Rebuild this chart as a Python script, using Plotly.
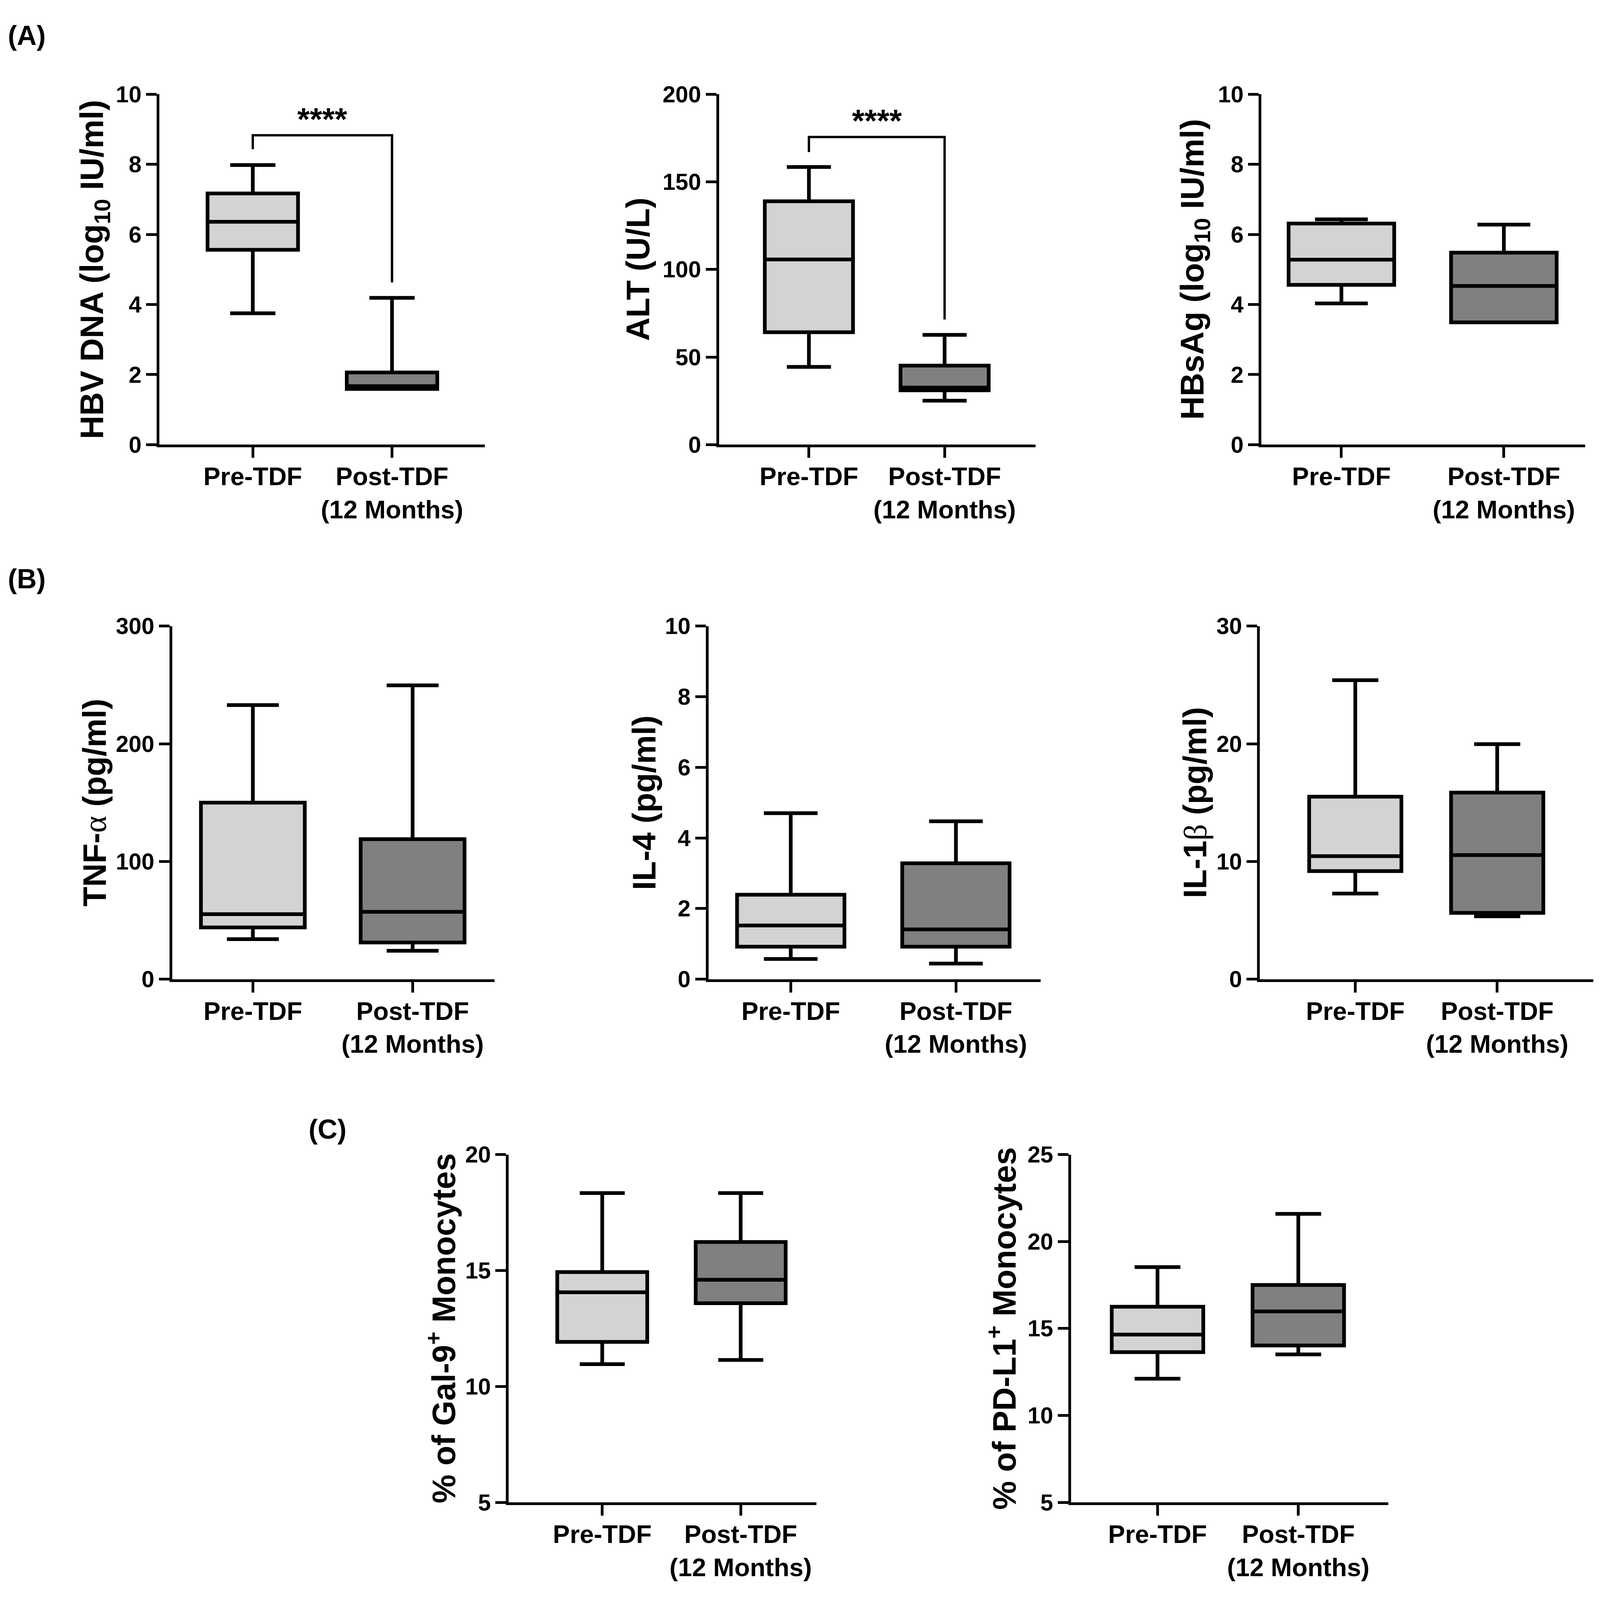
import plotly.graph_objects as go

# Canvas size of the reference figure (used to turn pixel positions into fractions)
W, H = 4126, 4218

# Groups on every panel
categories = ["Pre-TDF", "Post-TDF (12 Months)"]
category_labels = ["Pre-TDF", "Post-TDF<br>(12 Months)"]
fill_colors = ["#d3d3d3", "#808080"]

# (A) HBV DNA (log10 IU/ml)
hbv_lower = [3.75, 1.59]
hbv_q1 = [5.56, 1.59]
hbv_median = [6.36, 1.67]
hbv_q3 = [7.17, 2.06]
hbv_upper = [7.98, 4.19]
hbv_ticks = [0, 2, 4, 6, 8, 10]
hbv_bracket = [8.43, 8.83, 8.83, 4.63]
hbv_star_y = 9.3

# (A) ALT (U/L)
alt_lower = [44.4, 25.1]
alt_q1 = [64.2, 31.0]
alt_median = [105.7, 32.6]
alt_q3 = [138.9, 45.1]
alt_upper = [158.5, 62.7]
alt_ticks = [0, 50, 100, 150, 200]
alt_bracket = [167.0, 175.6, 175.6, 71.4]
alt_star_y = 185.0

# (A) HBsAg (log10 IU/ml)
hbsag_lower = [4.03, 3.49]
hbsag_q1 = [4.56, 3.49]
hbsag_median = [5.28, 4.53]
hbsag_q3 = [6.31, 5.48]
hbsag_upper = [6.43, 6.28]
hbsag_ticks = [0, 2, 4, 6, 8, 10]

# (B) TNF-alpha (pg/ml)
tnf_lower = [34.0, 24.1]
tnf_q1 = [43.9, 31.1]
tnf_median = [55.2, 57.2]
tnf_q3 = [150.0, 118.9]
tnf_upper = [232.9, 249.6]
tnf_ticks = [0, 100, 200, 300]

# (B) IL-4 (pg/ml)
il4_lower = [0.57, 0.44]
il4_q1 = [0.92, 0.92]
il4_median = [1.52, 1.41]
il4_q3 = [2.39, 3.28]
il4_upper = [4.70, 4.47]
il4_ticks = [0, 2, 4, 6, 8, 10]

# (B) IL-1beta (pg/ml)
il1b_lower = [7.27, 5.34]
il1b_q1 = [9.18, 5.63]
il1b_median = [10.45, 10.54]
il1b_q3 = [15.5, 15.85]
il1b_upper = [25.4, 19.97]
il1b_ticks = [0, 10, 20, 30]

# (C) % of Gal-9+ monocytes
gal9_lower = [10.96, 11.14]
gal9_q1 = [11.92, 13.59]
gal9_median = [14.06, 14.60]
gal9_q3 = [14.93, 16.23]
gal9_upper = [18.34, 18.34]
gal9_ticks = [5, 10, 15, 20]

# (C) % of PD-L1+ monocytes
pdl1_lower = [12.11, 13.51]
pdl1_q1 = [13.64, 14.02]
pdl1_median = [14.65, 15.98]
pdl1_q3 = [16.25, 17.50]
pdl1_upper = [18.53, 21.59]
pdl1_ticks = [5, 10, 15, 20, 25]

GREEK = '<span style="font-family:Liberation Serif;font-weight:normal">{}</span>'

# Panel placement in pixels of the reference (left, right, top, bottom), x range, title centre
panels = [
    dict(stats=(hbv_lower, hbv_q1, hbv_median, hbv_q3, hbv_upper), ticks=hbv_ticks,
         title="HBV DNA (log<sub>10</sub> IU/ml)", box=(411, 1250, 219, 1158),
         xrange=[-0.671, 1.666], title_x=243, bracket=hbv_bracket, star_y=hbv_star_y),
    dict(stats=(alt_lower, alt_q1, alt_median, alt_q3, alt_upper), ticks=alt_ticks,
         title="ALT (U/L)", box=(1854, 2670, 219, 1158),
         xrange=[-0.663, 1.669], title_x=1646, bracket=alt_bracket, star_y=alt_star_y),
    dict(stats=(hbsag_lower, hbsag_q1, hbsag_median, hbsag_q3, hbsag_upper), ticks=hbsag_ticks,
         title="HBsAg (log<sub>10</sub> IU/ml)", box=(3253, 4088, 219, 1158),
         xrange=[-0.492, 1.501], title_x=3080),
    dict(stats=(tnf_lower, tnf_q1, tnf_median, tnf_q3, tnf_upper), ticks=tnf_ticks,
         title="TNF-" + GREEK.format("α") + " (pg/ml)", box=(444, 1275, 1644, 2590),
         xrange=[-0.505, 1.512], title_x=244),
    dict(stats=(il4_lower, il4_q1, il4_median, il4_q3, il4_upper), ticks=il4_ticks,
         title="IL-4 (pg/ml)", box=(1827, 2684, 1644, 2590),
         xrange=[-0.498, 1.514], title_x=1662),
    dict(stats=(il1b_lower, il1b_q1, il1b_median, il1b_q3, il1b_upper), ticks=il1b_ticks,
         title="IL-1" + GREEK.format("β") + " (pg/ml)", box=(3249, 4109, 1644, 2590),
         xrange=[-0.672, 1.678], title_x=3082),
    dict(stats=(gal9_lower, gal9_q1, gal9_median, gal9_q3, gal9_upper), ticks=gal9_ticks,
         title="% of Gal-9<sup>+</sup> Monocytes", box=(1312, 2105, 3060, 3992),
         xrange=[-0.675, 1.546], title_x=1138),
    dict(stats=(pdl1_lower, pdl1_q1, pdl1_median, pdl1_q3, pdl1_upper), ticks=pdl1_ticks,
         title="% of PD-L1<sup>+</sup> Monocytes", box=(2762, 3580, 3060, 3992),
         xrange=[-0.614, 1.639], title_x=2584),
]

BOLD = "Liberation Sans"
NARROW = "Liberation Sans Narrow, Arial Narrow, Nimbus Sans Narrow, Liberation Sans"

fig = go.Figure()
layout = {}
annotations = []

for i, p in enumerate(panels, start=1):
    xa = "x" if i == 1 else f"x{i}"
    ya = "y" if i == 1 else f"y{i}"
    lower, q1, median, q3, upper = p["stats"]
    left, right, top, bottom = p["box"]

    for j in range(len(categories)):
        fig.add_trace(go.Box(
            x=[categories[j]], lowerfence=[lower[j]], q1=[q1[j]], median=[median[j]],
            q3=[q3[j]], upperfence=[upper[j]], fillcolor=fill_colors[j],
            line=dict(color="black", width=9.5), whiskerwidth=0.5, width=0.65,
            boxpoints=False, showlegend=False, hoverinfo="skip", xaxis=xa, yaxis=ya))

    # significance bracket
    if "bracket" in p:
        fig.add_trace(go.Scatter(
            x=[categories[0], categories[0], categories[1], categories[1]], y=p["bracket"],
            mode="lines", line=dict(color="black", width=6), showlegend=False,
            hoverinfo="skip", xaxis=xa, yaxis=ya))
        annotations.append(dict(x=0.5, y=p["star_y"], xref=xa, yref=ya, text="****",
                                showarrow=False,
                                font=dict(family=BOLD, size=82, color="black", weight="bold")))

    axis_common = dict(showline=True, linewidth=7, linecolor="black", ticks="outside",
                       ticklen=27, tickwidth=7, tickcolor="black", showgrid=False, zeroline=False)
    layout["xaxis" if i == 1 else f"xaxis{i}"] = dict(
        domain=[left / W, right / W], anchor=ya, type="category",
        categoryorder="array", categoryarray=categories,
        tickvals=categories, ticktext=category_labels, range=p["xrange"],
        ticklabelstandoff=-8,
        tickfont=dict(family=BOLD, size=65, color="black", weight="bold"), **axis_common)
    layout["yaxis" if i == 1 else f"yaxis{i}"] = dict(
        domain=[1 - bottom / H, 1 - top / H], anchor=xa,
        range=[p["ticks"][0], p["ticks"][-1]], tickvals=p["ticks"],
        tickfont=dict(family=NARROW, size=59, color="black", weight="bold"), **axis_common)

    # y axis title
    annotations.append(dict(x=p["title_x"] / W, y=1 - (top + bottom) / 2 / H,
                            xref="paper", yref="paper",
                            text=p["title"], textangle=-90, showarrow=False,
                            xanchor="center", yanchor="middle",
                            font=dict(family=BOLD, size=83, color="black", weight="bold")))

# panel letters
for label, lx, ly in [("(A)", 18, 62), ("(B)", 18, 1518), ("(C)", 794, 2992)]:
    annotations.append(dict(x=lx / W, y=1 - ly / H, xref="paper", yref="paper", text=label,
                            showarrow=False, xanchor="left", yanchor="middle",
                            font=dict(family=BOLD, size=70, color="black", weight="bold")))

fig.update_layout(margin=dict(l=0, r=0, t=0, b=0),
                  paper_bgcolor="white", plot_bgcolor="white",
                  annotations=annotations, **layout)

# size the figure to the browser window
fig.write_html("out.html", default_width="100vw", default_height="100vh",
               config={"displayModeBar": False},
               post_script="document.body.style.margin='0';document.body.style.overflow='hidden';")
